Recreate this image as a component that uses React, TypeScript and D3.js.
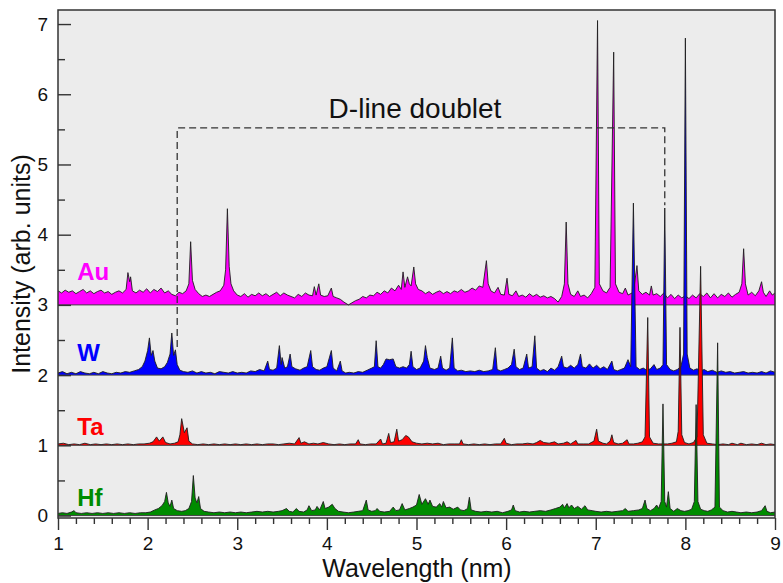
import { useEffect, useRef } from 'react';
import * as d3 from 'd3';

// spectra: [wavelength (nm), intensity (offset included)]
const au: [number, number][] = [
  [1.0, 3.2], [1.04, 3.17], [1.08, 3.21], [1.12, 3.18], [1.16, 3.2], [1.2, 3.16], [1.24, 3.19], [1.28, 3.22],
  [1.32, 3.17], [1.36, 3.2], [1.4, 3.16], [1.44, 3.19], [1.48, 3.21], [1.52, 3.17], [1.56, 3.19], [1.6, 3.15],
  [1.64, 3.18], [1.68, 3.2], [1.72, 3.17], [1.76, 3.22], [1.78, 3.46], [1.8, 3.33], [1.81, 3.4], [1.83, 3.2],
  [1.87, 3.17], [1.91, 3.21], [1.95, 3.18], [1.99, 3.23], [2.03, 3.17], [2.07, 3.22], [2.11, 3.19], [2.15, 3.24],
  [2.19, 3.17], [2.23, 3.2], [2.27, 3.15], [2.31, 3.13], [2.35, 3.18], [2.39, 3.16], [2.43, 3.2], [2.46, 3.3],
  [2.48, 3.9], [2.5, 3.35], [2.53, 3.22], [2.57, 3.16], [2.61, 3.12], [2.65, 3.14], [2.69, 3.12], [2.73, 3.15],
  [2.77, 3.18], [2.81, 3.2], [2.85, 3.28], [2.87, 3.5], [2.89, 4.37], [2.91, 3.55], [2.93, 3.3], [2.96, 3.2],
  [3.0, 3.14], [3.04, 3.12], [3.08, 3.16], [3.12, 3.11], [3.16, 3.15], [3.2, 3.13], [3.24, 3.17], [3.28, 3.13],
  [3.32, 3.16], [3.36, 3.12], [3.4, 3.15], [3.44, 3.18], [3.48, 3.13], [3.52, 3.17], [3.56, 3.14], [3.6, 3.12],
  [3.64, 3.1], [3.68, 3.15], [3.72, 3.12], [3.76, 3.17], [3.8, 3.14], [3.84, 3.13], [3.86, 3.26], [3.88, 3.14],
  [3.91, 3.3], [3.93, 3.14], [3.97, 3.12], [4.01, 3.13], [4.05, 3.24], [4.07, 3.12], [4.11, 3.1], [4.15, 3.08],
  [4.19, 3.04], [4.24, 3.0], [4.28, 3.03], [4.32, 3.06], [4.36, 3.08], [4.4, 3.12], [4.44, 3.1], [4.48, 3.14],
  [4.52, 3.13], [4.56, 3.18], [4.6, 3.15], [4.64, 3.2], [4.68, 3.17], [4.72, 3.24], [4.76, 3.2], [4.8, 3.28],
  [4.83, 3.22], [4.85, 3.47], [4.87, 3.25], [4.9, 3.4], [4.92, 3.3], [4.94, 3.27], [4.97, 3.54], [4.99, 3.3],
  [5.02, 3.22], [5.06, 3.2], [5.1, 3.16], [5.14, 3.19], [5.18, 3.15], [5.22, 3.18], [5.26, 3.2], [5.3, 3.16],
  [5.34, 3.19], [5.38, 3.16], [5.42, 3.2], [5.46, 3.18], [5.5, 3.22], [5.54, 3.18], [5.58, 3.2], [5.62, 3.24],
  [5.66, 3.21], [5.7, 3.27], [5.74, 3.25], [5.78, 3.63], [5.8, 3.3], [5.83, 3.2], [5.87, 3.17], [5.91, 3.25],
  [5.94, 3.15], [5.98, 3.14], [6.01, 3.38], [6.03, 3.15], [6.07, 3.13], [6.11, 3.2], [6.14, 3.12], [6.18, 3.14],
  [6.22, 3.11], [6.26, 3.16], [6.3, 3.12], [6.34, 3.15], [6.38, 3.11], [6.42, 3.13], [6.46, 3.1], [6.5, 3.12],
  [6.54, 3.09], [6.58, 3.04], [6.62, 3.12], [6.65, 3.3], [6.67, 4.18], [6.69, 3.3], [6.72, 3.15], [6.76, 3.12],
  [6.8, 3.2], [6.83, 3.12], [6.87, 3.14], [6.91, 3.1], [6.95, 3.16], [6.99, 3.25], [7.02, 7.05], [7.04, 3.3],
  [7.08, 3.2], [7.12, 3.17], [7.16, 3.25], [7.2, 6.6], [7.22, 3.3], [7.26, 3.18], [7.3, 3.16], [7.33, 3.24],
  [7.36, 3.14], [7.42, 3.18], [7.46, 3.56], [7.48, 3.2], [7.52, 3.15], [7.56, 3.18], [7.6, 3.14], [7.62, 3.27],
  [7.64, 3.14], [7.68, 3.16], [7.72, 3.12], [7.76, 3.17], [7.8, 3.1], [7.84, 3.15], [7.88, 3.09], [7.92, 3.14],
  [7.96, 3.1], [8.0, 3.13], [8.04, 3.09], [8.08, 3.14], [8.12, 3.1], [8.16, 3.16], [8.2, 3.12], [8.24, 3.17],
  [8.28, 3.1], [8.32, 3.16], [8.36, 3.1], [8.4, 3.15], [8.44, 3.12], [8.48, 3.17], [8.52, 3.11], [8.56, 3.15],
  [8.6, 3.18], [8.63, 3.3], [8.65, 3.8], [8.67, 3.3], [8.7, 3.14], [8.74, 3.18], [8.78, 3.13], [8.82, 3.2],
  [8.85, 3.33], [8.87, 3.18], [8.9, 3.12], [8.94, 3.2], [8.97, 3.14], [9.0, 3.17],
];

const w: [number, number][] = [
  [1.0, 2.03], [1.05, 2.05], [1.1, 2.02], [1.15, 2.04], [1.2, 2.02], [1.25, 2.05], [1.3, 2.03], [1.35, 2.02],
  [1.4, 2.04], [1.45, 2.02], [1.5, 2.05], [1.55, 2.03], [1.6, 2.02], [1.65, 2.04], [1.7, 2.03], [1.75, 2.05],
  [1.8, 2.04], [1.85, 2.06], [1.9, 2.08], [1.94, 2.12], [1.97, 2.2], [2.0, 2.35], [2.02, 2.53], [2.04, 2.28],
  [2.06, 2.35], [2.08, 2.2], [2.11, 2.1], [2.15, 2.09], [2.19, 2.12], [2.22, 2.18], [2.25, 2.3], [2.27, 2.6],
  [2.29, 2.28], [2.31, 2.36], [2.33, 2.15], [2.36, 2.07], [2.4, 2.05], [2.45, 2.04], [2.5, 2.06], [2.55, 2.03],
  [2.6, 2.05], [2.65, 2.03], [2.7, 2.04], [2.75, 2.02], [2.8, 2.05], [2.85, 2.04], [2.9, 2.03], [2.95, 2.05],
  [3.0, 2.03], [3.05, 2.04], [3.1, 2.03], [3.15, 2.06], [3.2, 2.05], [3.25, 2.08], [3.3, 2.06], [3.34, 2.2],
  [3.36, 2.08], [3.4, 2.07], [3.44, 2.1], [3.47, 2.42], [3.49, 2.15], [3.5, 2.25], [3.53, 2.1], [3.56, 2.12],
  [3.59, 2.3], [3.61, 2.12], [3.65, 2.09], [3.7, 2.07], [3.74, 2.1], [3.78, 2.12], [3.82, 2.35], [3.84, 2.12],
  [3.88, 2.08], [3.92, 2.07], [3.96, 2.1], [4.0, 2.12], [4.05, 2.35], [4.07, 2.1], [4.11, 2.06], [4.15, 2.2],
  [4.17, 2.06], [4.21, 2.03], [4.25, 2.04], [4.3, 2.03], [4.35, 2.05], [4.4, 2.04], [4.45, 2.07], [4.5, 2.1],
  [4.53, 2.12], [4.55, 2.49], [4.57, 2.12], [4.6, 2.1], [4.63, 2.15], [4.66, 2.23], [4.7, 2.22], [4.74, 2.23],
  [4.77, 2.12], [4.81, 2.1], [4.85, 2.12], [4.89, 2.1], [4.92, 2.15], [4.94, 2.34], [4.96, 2.12], [5.0, 2.08],
  [5.04, 2.1], [5.08, 2.2], [5.1, 2.42], [5.12, 2.25], [5.15, 2.1], [5.2, 2.08], [5.24, 2.1], [5.27, 2.27],
  [5.29, 2.1], [5.33, 2.07], [5.37, 2.1], [5.4, 2.53], [5.42, 2.1], [5.46, 2.06], [5.5, 2.07], [5.55, 2.05],
  [5.6, 2.06], [5.65, 2.05], [5.7, 2.07], [5.75, 2.05], [5.8, 2.06], [5.85, 2.08], [5.88, 2.39], [5.9, 2.08],
  [5.94, 2.06], [5.98, 2.08], [6.02, 2.1], [6.06, 2.15], [6.09, 2.37], [6.11, 2.12], [6.15, 2.08], [6.19, 2.1],
  [6.23, 2.3], [6.25, 2.1], [6.29, 2.12], [6.32, 2.56], [6.34, 2.1], [6.38, 2.06], [6.42, 2.08], [6.46, 2.05],
  [6.5, 2.1], [6.54, 2.07], [6.58, 2.12], [6.62, 2.27], [6.64, 2.12], [6.68, 2.1], [6.72, 2.14], [6.76, 2.1],
  [6.8, 2.15], [6.83, 2.3], [6.85, 2.12], [6.89, 2.1], [6.93, 2.16], [6.97, 2.1], [7.01, 2.14], [7.05, 2.09],
  [7.09, 2.12], [7.13, 2.08], [7.18, 2.2], [7.2, 2.08], [7.24, 2.06], [7.28, 2.08], [7.32, 2.1], [7.36, 2.22],
  [7.39, 2.12], [7.42, 4.45], [7.45, 2.12], [7.49, 2.08], [7.53, 2.1], [7.57, 2.07], [7.61, 2.09], [7.65, 2.15],
  [7.68, 2.08], [7.72, 2.1], [7.75, 2.15], [7.77, 4.38], [7.79, 2.15], [7.83, 2.08], [7.87, 2.06], [7.91, 2.08],
  [7.95, 2.12], [7.98, 2.3], [8.0, 6.8], [8.02, 2.3], [8.05, 2.1], [8.09, 2.07], [8.13, 2.09], [8.17, 2.06],
  [8.21, 2.08], [8.25, 2.05], [8.3, 2.07], [8.35, 2.04], [8.4, 2.06], [8.45, 2.04], [8.5, 2.05], [8.55, 2.03],
  [8.6, 2.04], [8.65, 2.05], [8.7, 2.03], [8.75, 2.04], [8.8, 2.03], [8.85, 2.05], [8.9, 2.03], [8.95, 2.06],
  [9.0, 2.04],
];

const ta: [number, number][] = [
  [1.0, 1.02], [1.06, 1.03], [1.12, 1.01], [1.18, 1.02], [1.24, 1.01], [1.3, 1.03], [1.36, 1.01], [1.42, 1.02],
  [1.48, 1.01], [1.54, 1.02], [1.6, 1.01], [1.66, 1.02], [1.72, 1.01], [1.78, 1.02], [1.84, 1.01], [1.9, 1.02],
  [1.96, 1.02], [2.02, 1.03], [2.06, 1.05], [2.1, 1.12], [2.13, 1.06], [2.17, 1.12], [2.2, 1.04], [2.25, 1.02],
  [2.3, 1.03], [2.34, 1.05], [2.36, 1.15], [2.38, 1.38], [2.41, 1.18], [2.44, 1.25], [2.46, 1.06], [2.5, 1.02],
  [2.56, 1.01], [2.62, 1.02], [2.68, 1.01], [2.74, 1.02], [2.8, 1.01], [2.86, 1.02], [2.92, 1.01], [2.98, 1.02],
  [3.04, 1.01], [3.1, 1.02], [3.16, 1.01], [3.22, 1.02], [3.28, 1.01], [3.34, 1.02], [3.4, 1.02], [3.46, 1.01],
  [3.52, 1.02], [3.58, 1.03], [3.64, 1.02], [3.69, 1.11], [3.71, 1.03], [3.75, 1.05], [3.8, 1.02], [3.85, 1.03],
  [3.9, 1.02], [3.96, 1.04], [4.02, 1.02], [4.08, 1.01], [4.14, 1.02], [4.2, 1.01], [4.26, 1.02], [4.32, 1.02],
  [4.35, 1.08], [4.37, 1.02], [4.43, 1.01], [4.49, 1.02], [4.55, 1.02], [4.6, 1.09], [4.62, 1.02], [4.66, 1.03],
  [4.69, 1.17], [4.71, 1.04], [4.75, 1.05], [4.78, 1.23], [4.8, 1.06], [4.84, 1.08], [4.88, 1.14], [4.91, 1.12],
  [4.95, 1.05], [5.0, 1.03], [5.06, 1.02], [5.12, 1.03], [5.18, 1.02], [5.24, 1.03], [5.3, 1.01], [5.36, 1.02],
  [5.42, 1.02], [5.48, 1.02], [5.5, 1.08], [5.52, 1.02], [5.58, 1.01], [5.64, 1.02], [5.7, 1.01], [5.76, 1.02],
  [5.82, 1.01], [5.88, 1.02], [5.94, 1.02], [5.98, 1.1], [6.0, 1.03], [6.06, 1.01], [6.12, 1.02], [6.18, 1.02],
  [6.24, 1.03], [6.3, 1.02], [6.34, 1.04], [6.38, 1.07], [6.42, 1.04], [6.48, 1.03], [6.54, 1.05], [6.58, 1.02],
  [6.64, 1.03], [6.68, 1.05], [6.72, 1.02], [6.78, 1.07], [6.8, 1.02], [6.86, 1.02], [6.92, 1.02], [6.98, 1.06],
  [7.01, 1.23], [7.03, 1.06], [7.08, 1.03], [7.12, 1.02], [7.16, 1.06], [7.18, 1.15], [7.2, 1.04], [7.25, 1.02],
  [7.3, 1.03], [7.35, 1.08], [7.37, 1.02], [7.42, 1.02], [7.47, 1.03], [7.52, 1.05], [7.55, 1.12], [7.58, 2.82],
  [7.6, 1.12], [7.64, 1.03], [7.7, 1.02], [7.75, 1.02], [7.8, 1.02], [7.85, 1.03], [7.9, 1.05], [7.92, 1.2],
  [7.94, 2.68], [7.96, 1.15], [7.99, 1.04], [8.04, 1.02], [8.09, 1.04], [8.13, 1.12], [8.17, 3.55], [8.2, 1.15],
  [8.24, 1.03], [8.3, 1.02], [8.36, 1.01], [8.42, 1.02], [8.48, 1.01], [8.52, 1.03], [8.58, 1.01], [8.62, 1.03],
  [8.68, 1.01], [8.74, 1.02], [8.8, 1.01], [8.85, 1.03], [8.9, 1.01], [8.95, 1.02], [9.0, 1.01],
];

const hf: [number, number][] = [
  [1.0, 0.03], [1.05, 0.04], [1.1, 0.03], [1.15, 0.05], [1.18, 0.07], [1.2, 0.04], [1.26, 0.03], [1.32, 0.04],
  [1.38, 0.03], [1.44, 0.04], [1.5, 0.03], [1.56, 0.04], [1.62, 0.03], [1.68, 0.04], [1.74, 0.03], [1.8, 0.04],
  [1.86, 0.03], [1.92, 0.04], [1.98, 0.04], [2.03, 0.05], [2.08, 0.08], [2.12, 0.1], [2.16, 0.14], [2.19, 0.2],
  [2.21, 0.33], [2.23, 0.18], [2.25, 0.13], [2.27, 0.22], [2.29, 0.1], [2.33, 0.07], [2.38, 0.06], [2.42, 0.07],
  [2.46, 0.1], [2.49, 0.2], [2.51, 0.57], [2.53, 0.25], [2.55, 0.18], [2.57, 0.27], [2.59, 0.1], [2.63, 0.06],
  [2.68, 0.05], [2.74, 0.04], [2.8, 0.05], [2.86, 0.04], [2.92, 0.05], [2.98, 0.04], [3.04, 0.05], [3.1, 0.04],
  [3.16, 0.05], [3.22, 0.06], [3.28, 0.05], [3.34, 0.06], [3.4, 0.05], [3.46, 0.06], [3.5, 0.07], [3.55, 0.1],
  [3.58, 0.06], [3.62, 0.05], [3.66, 0.1], [3.69, 0.06], [3.74, 0.05], [3.78, 0.08], [3.8, 0.14], [3.83, 0.07],
  [3.87, 0.08], [3.89, 0.13], [3.92, 0.08], [3.96, 0.2], [3.98, 0.1], [4.02, 0.12], [4.06, 0.16], [4.09, 0.1],
  [4.13, 0.06], [4.18, 0.05], [4.24, 0.04], [4.3, 0.05], [4.35, 0.06], [4.4, 0.07], [4.44, 0.22], [4.46, 0.08],
  [4.5, 0.06], [4.54, 0.07], [4.56, 0.1], [4.59, 0.06], [4.64, 0.05], [4.7, 0.06], [4.74, 0.12], [4.77, 0.07],
  [4.81, 0.08], [4.84, 0.17], [4.87, 0.08], [4.92, 0.1], [4.96, 0.12], [5.0, 0.15], [5.03, 0.3], [5.06, 0.16],
  [5.1, 0.24], [5.13, 0.16], [5.15, 0.22], [5.18, 0.13], [5.22, 0.12], [5.26, 0.17], [5.28, 0.12], [5.3, 0.2],
  [5.33, 0.11], [5.37, 0.12], [5.41, 0.09], [5.46, 0.12], [5.49, 0.08], [5.53, 0.07], [5.57, 0.1], [5.59, 0.26],
  [5.61, 0.08], [5.66, 0.06], [5.72, 0.05], [5.78, 0.06], [5.84, 0.05], [5.9, 0.06], [5.96, 0.04], [6.02, 0.06],
  [6.06, 0.08], [6.08, 0.15], [6.1, 0.07], [6.15, 0.05], [6.2, 0.06], [6.26, 0.05], [6.32, 0.06], [6.38, 0.07],
  [6.44, 0.06], [6.5, 0.08], [6.55, 0.1], [6.6, 0.12], [6.63, 0.16], [6.65, 0.11], [6.68, 0.17], [6.7, 0.11],
  [6.73, 0.15], [6.76, 0.1], [6.8, 0.13], [6.84, 0.09], [6.88, 0.14], [6.91, 0.08], [6.96, 0.07], [7.0, 0.06],
  [7.06, 0.05], [7.12, 0.06], [7.18, 0.05], [7.24, 0.06], [7.3, 0.07], [7.33, 0.1], [7.36, 0.06], [7.42, 0.07],
  [7.48, 0.08], [7.52, 0.1], [7.55, 0.22], [7.57, 0.1], [7.61, 0.07], [7.65, 0.1], [7.68, 0.15], [7.7, 0.1],
  [7.73, 0.2], [7.75, 1.59], [7.77, 0.2], [7.79, 0.12], [7.81, 0.34], [7.83, 0.1], [7.87, 0.06], [7.91, 0.1],
  [7.95, 0.07], [7.99, 0.06], [8.03, 0.07], [8.07, 0.09], [8.1, 0.2], [8.12, 1.58], [8.14, 0.2], [8.17, 0.09],
  [8.21, 0.07], [8.25, 0.06], [8.29, 0.08], [8.33, 0.12], [8.36, 2.46], [8.38, 0.12], [8.42, 0.07], [8.47, 0.05],
  [8.52, 0.06], [8.57, 0.05], [8.62, 0.04], [8.68, 0.05], [8.74, 0.04], [8.8, 0.05], [8.85, 0.07], [8.89, 0.14],
  [8.91, 0.06], [8.95, 0.04], [9.0, 0.05],
];

const xTicks = [1, 2, 3, 4, 5, 6, 7, 8, 9];
const yTicks = [0, 1, 2, 3, 4, 5, 6, 7];

// "D-line doublet" bracket, in data units
const bracketLeft = 2.33;
const bracketRight = 7.77;
const bracketTop = 5.52;
const bracketLeftEnd = 2.4;
const bracketRightEnd = 4.42;

const series = [
  { name: 'Au', data: au, base: 3, color: '#ff00ff', labelY: 3.36 },
  { name: 'W', data: w, base: 2, color: '#0000ff', labelY: 2.2 },
  { name: 'Ta', data: ta, base: 1, color: '#ff0000', labelY: 1.15 },
  { name: 'Hf', data: hf, base: 0, color: '#008c00', labelY: 0.13 },
];

const FONT = '"Liberation Sans", Arial, Helvetica, sans-serif';

export default function App() {
  const svgRef = useRef<SVGSVGElement>(null);

  useEffect(() => {
    const svg = d3.select(svgRef.current);
    svg.selectAll('*').remove();

    const width = 783;
    const height = 583;
    const left = 58, right = 775, top = 10, bottom = 518;

    const x = d3.scaleLinear().domain([1, 9]).range([left, right]);
    const y = d3.scaleLinear().domain([-0.035, 7.2]).range([bottom, top]);

    svg.attr('width', width).attr('height', height);

    // plot background
    svg.append('rect')
      .attr('x', left).attr('y', top)
      .attr('width', right - left).attr('height', bottom - top)
      .attr('fill', '#ececec');

    // spectra, Au first so the lower traces sit on top
    series.forEach((s) => {
      const area = d3.area<[number, number]>()
        .x((d) => x(d[0]))
        .y0(y(s.base))
        .y1((d) => y(d[1]));
      const line = d3.line<[number, number]>()
        .x((d) => x(d[0]))
        .y((d) => y(d[1]));

      const g = svg.append('g');
      g.append('path').datum(s.data).attr('d', area).attr('fill', s.color);
      g.append('line')
        .attr('x1', left).attr('x2', right)
        .attr('y1', y(s.base)).attr('y2', y(s.base))
        .attr('stroke', '#444').attr('stroke-width', 1);
      g.append('path').datum(s.data).attr('d', line)
        .attr('fill', 'none').attr('stroke', '#1e1e1e')
        .attr('stroke-width', 0.9).attr('stroke-linejoin', 'round');
    });

    // element labels
    series.forEach((s) => {
      svg.append('text')
        .attr('x', x(1.215)).attr('y', y(s.labelY))
        .attr('fill', s.color)
        .style('font-family', FONT).style('font-size', '24px').style('font-weight', 'bold')
        .text(s.name);
    });

    // dashed bracket
    svg.append('path')
      .attr('d', d3.line()([
        [x(bracketLeft), y(bracketLeftEnd)],
        [x(bracketLeft), y(bracketTop)],
        [x(bracketRight), y(bracketTop)],
        [x(bracketRight), y(bracketRightEnd)],
      ]))
      .attr('fill', 'none').attr('stroke', '#333')
      .attr('stroke-width', 1.3).attr('stroke-dasharray', '7,4');

    svg.append('text')
      .attr('x', 415).attr('y', 118)
      .attr('text-anchor', 'middle')
      .style('font-family', FONT).style('font-size', '28px').style('fill', '#111')
      .text('D-line doublet');

    // x axis: ticks point outward
    const xMinor = d3.range(1, 9.001, 0.2).filter((v) => Math.abs(v - Math.round(v)) > 0.01);
    svg.append('g')
      .attr('transform', `translate(0,${bottom})`)
      .call(d3.axisBottom(x).tickValues(xMinor).tickSize(6).tickFormat(() => ''))
      .call((g) => g.select('.domain').remove());
    svg.append('g')
      .attr('transform', `translate(0,${bottom})`)
      .call(d3.axisBottom(x).tickValues(xTicks).tickSize(12).tickPadding(7).tickFormat(d3.format('d')))
      .call((g) => g.select('.domain').remove())
      .call((g) => g.selectAll('text').style('font-family', FONT).style('font-size', '19px').attr('fill', '#111'));

    // y axis: ticks point inward
    const yMinor = d3.range(0.5, 7.2, 1);
    svg.append('g')
      .attr('transform', `translate(${left},0)`)
      .call(d3.axisLeft(y).tickValues(yMinor).tickSize(-7).tickFormat(() => ''))
      .call((g) => g.select('.domain').remove());
    svg.append('g')
      .attr('transform', `translate(${left},0)`)
      .call(d3.axisLeft(y).tickValues(yTicks).tickSize(-13).tickPadding(10).tickFormat(d3.format('d')))
      .call((g) => g.select('.domain').remove())
      .call((g) => g.selectAll('text').style('font-family', FONT).style('font-size', '19px').attr('fill', '#111'));

    svg.selectAll('.tick line').attr('stroke', '#333').attr('stroke-width', 1.4);

    // frame
    svg.append('rect')
      .attr('x', left).attr('y', top)
      .attr('width', right - left).attr('height', bottom - top)
      .attr('fill', 'none').attr('stroke', '#333').attr('stroke-width', 1.5);

    // axis titles
    svg.append('text')
      .attr('x', 417).attr('y', 577)
      .attr('text-anchor', 'middle')
      .style('font-family', FONT).style('font-size', '25px').style('fill', '#111')
      .text('Wavelength (nm)');

    svg.append('text')
      .attr('transform', `translate(30,${(top + bottom) / 2}) rotate(-90)`)
      .attr('text-anchor', 'middle')
      .style('font-family', FONT).style('font-size', '25px').style('fill', '#111')
      .text('Intensity (arb. units)');
  }, []);

  return <svg ref={svgRef} style={{ position: 'absolute', left: 0, top: 0 }} />;
}
